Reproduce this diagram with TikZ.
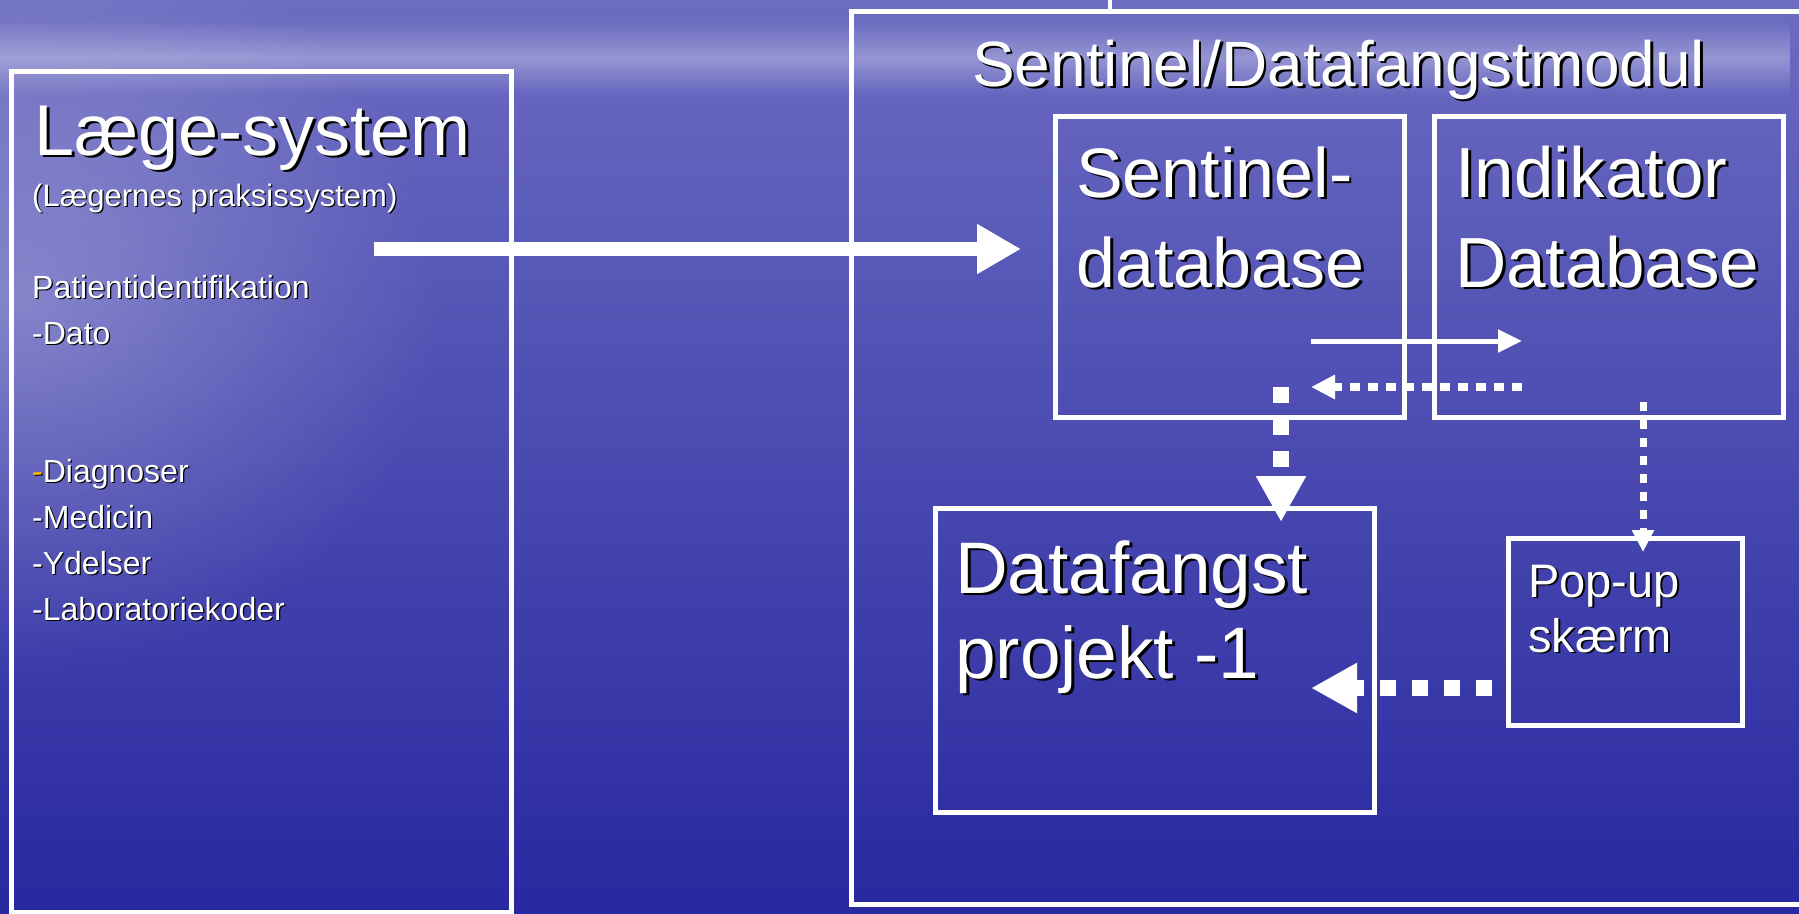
\documentclass[tikz,border=0pt]{standalone}
\usepackage{fontspec}
\setmainfont{Liberation Sans}
\usetikzlibrary{arrows.meta,fadings}

\definecolor{seatop}{RGB}{108,108,194}
\definecolor{seamid}{RGB}{70,70,178}
\definecolor{seabot}{RGB}{40,40,160}
\definecolor{gold}{RGB}{255,192,0}

\tikzfading[name=glow, inner color=transparent!0, outer color=transparent!100]
\tikzfading[name=band, top color=transparent!100, bottom color=transparent!100, middle color=transparent!0]

% white text with a black drop shadow (\gd marks gold, not in the shadow)
\newcommand\gd[1]{\textcolor{gold}{#1}}
\newcommand\shd[1]{\rlap{\hspace{0.04em}\raisebox{-0.04em}{\color{black}\renewcommand\gd[1]{##1}#1}}#1}

\begin{document}
\begin{tikzpicture}[
       x=1pt, y=-1pt,
       frame/.style={
         draw=white,
         line width=5pt,
         inner sep=0pt,
         anchor=north west
       },
       txt/.style={
         text=white,
         inner sep=0pt,
         anchor=base west,
         align=left
       },
       bigarrow/.style={white, line width=14pt, -{Triangle[length=44pt,width=47pt]}},
       thinarrow/.style={white, line width=5pt, -{Triangle[length=24pt,width=22pt]}},
       dotarrow/.style={white, line width=8pt, dash pattern=on 10pt off 8pt, -{Triangle[length=24pt,width=23pt]}},
       dotarrowb/.style={white, line width=7pt, dash pattern=on 9pt off 9pt, -{Triangle[length=22pt,width=21pt]}},
       dasharrow/.style={white, line width=16pt, dash pattern=on 16pt off 16pt, -{Triangle[length=46pt,width=47pt]}}
     ]

       \useasboundingbox (0,0) rectangle (1799,913);
       \clip (0,0) rectangle (1799,913);

       % background
       \shade[top color=seatop, middle color=seamid, bottom color=seabot] (0,0) rectangle (1799,913);
       \fill[white, opacity=0.3, path fading=band] (0,20) rectangle (1799,95);
       \fill[white, opacity=0.28, path fading=glow] (20,300) ellipse [x radius=420pt, y radius=380pt];

       % boxes
       \node (laege) at (9,69) [frame, minimum width=500pt, minimum height=841pt]{};
       \node (modul) at (849,9) [frame, minimum width=970pt, minimum height=893pt]{};
       \node (sdb) at (1053,114) [frame, minimum width=349pt, minimum height=301pt]{};
       \node (idb) at (1432,114) [frame, minimum width=349pt, minimum height=301pt]{};
       \node (dfp) at (933,506) [frame, minimum width=439pt, minimum height=304pt]{};
       \node (pop) at (1506,536) [frame, minimum width=234pt, minimum height=187pt]{};
       \draw[white, line width=4pt] (1110,-2) -- (1110,9);

       % texts (multi-line nodes sit on their last baseline)
       \node (lstitle) at (34,155) [txt, font=\fontsize{72}{80}\selectfont]{\shd{Læge-system}};
       \node (lssub) at (32,206) [txt, font=\fontsize{31}{40}\selectfont]{\shd{(Lægernes praksissystem)}};
       \node (lsdata) at (32,620) [txt, font=\fontsize{32}{46}\selectfont]{\shd{Patientidentifikation}\\
         \shd{-Dato}\\ \\ \\
         \shd{\gd{-}Diagnoser}\\
         \shd{-Medicin}\\
         \shd{-Ydelser}\\
         \shd{-Laboratoriekoder}};
       \node (modtitle) at (972,86) [txt, font=\fontsize{64}{70}\selectfont]{\shd{Sentinel/Datafangstmodul}};
       \node (sdbtxt) at (1076,287) [txt, font=\fontsize{70}{90}\selectfont]{\shd{Sentinel-}\\\shd{database}};
       \node (idbtxt) at (1455,287) [txt, font=\fontsize{71}{90}\selectfont]{\shd{Indikator}\\\shd{Database}};
       \node (dfptxt) at (955,678) [txt, font=\fontsize{73}{85}\selectfont]{\shd{Datafangst}\\\shd{projekt -1}};
       \node (poptxt) at (1528,652) [txt, font=\fontsize{47}{55}\selectfont]{\shd{Pop-up}\\\shd{skærm}};

       % arrows
       \coordinate (feedA) at (374,249);
       \coordinate (feedB) at (1021,249);
       \coordinate (s2iA) at (1311,341);
       \coordinate (s2iB) at (1522,341);
       \coordinate (i2sA) at (1522,387);
       \coordinate (i2sB) at (1311,387);
       \coordinate (s2dA) at (1281,387);
       \coordinate (s2dB) at (1281,522);
       \coordinate (i2pA) at (1643,402);
       \coordinate (i2pB) at (1643,552);
       \coordinate (p2dA) at (1492,688);
       \coordinate (p2dB) at (1311,688);

       \draw[bigarrow] (feedA) -- (feedB);
       \draw[thinarrow] (s2iA) -- (s2iB);
       \draw[dotarrow] (i2sA) -- (i2sB);
       \draw[dasharrow] (s2dA) -- (s2dB);
       \draw[dotarrowb] (i2pA) -- (i2pB);
       \draw[dasharrow] (p2dA) -- (p2dB);

\end{tikzpicture}
\end{document}
